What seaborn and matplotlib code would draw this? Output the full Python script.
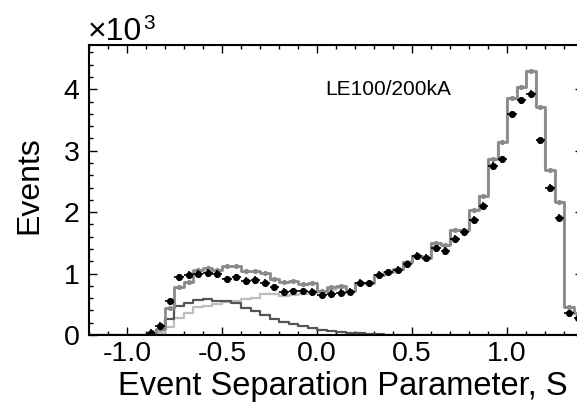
import numpy as np
import pandas as pd
import matplotlib
matplotlib.use("Agg")
import matplotlib.pyplot as plt
import seaborn as sns
from matplotlib.ticker import MultipleLocator

# ---------------- data (values in units of 10^3 events) ----------------
bin_edges = [round(-1.2 + 0.05 * i, 3) for i in range(53)]     # 52 bins of width 0.05
bin_centers = [round(e + 0.025, 3) for e in bin_edges[:-1]]

# total MC prediction (gray histogram + gray dots)
mc_total = [0, 0, 0, 0, 0, 0,
            0.015, 0.10, 0.434, 0.786, 0.867, 1.057, 1.095, 1.057, 1.127, 1.127,
            1.04, 1.04, 1.003, 0.916, 0.867, 0.878, 0.824, 0.84,
            0.715, 0.775, 0.797, 0.71, 0.85, 0.84, 0.976, 1.03, 1.07, 1.19,
            1.285, 1.26, 1.49, 1.46, 1.71, 1.71, 2.03, 2.26, 2.87, 3.14,
            3.85, 4.04, 4.29, 3.71, 2.68, 2.16, 0.45, 0.35]

# dark-gray component (peaks near S = -0.55)
mc_comp1 = [0, 0, 0, 0, 0, 0,
            0.005, 0.08, 0.26, 0.47, 0.515, 0.57, 0.58, 0.553, 0.553, 0.515,
            0.44, 0.39, 0.325, 0.255, 0.216, 0.18, 0.146, 0.11,
            0.075, 0.06, 0.045, 0.035, 0.027, 0.02, 0.012, 0.008, 0.004, 0.003,
            0.002, 0.002, 0.001, 0.001, 0, 0, 0, 0, 0, 0,
            0, 0, 0, 0, 0, 0, 0, 0]

# light-gray component
mc_comp2 = [0, 0, 0, 0, 0, 0,
            0.008, 0.03, 0.125, 0.27, 0.36, 0.45, 0.47, 0.50, 0.53, 0.55,
            0.58, 0.60, 0.66, 0.665, 0.64, 0.65, 0.67, 0.68,
            0.70, 0.74, 0.77, 0.70, 0.84, 0.83, 0.97, 1.02, 1.065, 1.185,
            1.28, 1.255, 1.49, 1.46, 1.71, 1.71, 2.03, 2.26, 2.87, 3.14,
            3.85, 4.04, 4.29, 3.71, 2.68, 2.16, 0.45, 0.35]

# data points (black)
data_x = [-0.875, -0.825, -0.775, -0.725, -0.675, -0.625, -0.575, -0.525, -0.475,
          -0.425, -0.375, -0.325, -0.275, -0.225, -0.175, -0.125, -0.075, -0.025,
          0.025, 0.075, 0.125, 0.175, 0.225, 0.275, 0.325, 0.375, 0.425, 0.475,
          0.525, 0.575, 0.625, 0.675, 0.725, 0.775, 0.825, 0.875, 0.925, 0.975,
          1.025, 1.075, 1.125, 1.175, 1.225, 1.275, 1.325, 1.375]
data_y = [0.03, 0.15, 0.55, 0.94, 0.975, 1.00, 1.01, 0.99, 0.905,
          0.94, 0.878, 0.894, 0.85, 0.776, 0.705, 0.71, 0.71, 0.70,
          0.645, 0.667, 0.688, 0.705, 0.85, 0.84, 0.976, 1.02, 1.057, 1.15,
          1.285, 1.26, 1.41, 1.37, 1.56, 1.68, 1.875, 2.10, 2.75, 2.86,
          3.59, 3.82, 3.93, 3.17, 2.40, 1.91, 0.353, 0.27]

x_ticks = [-1.0, -0.5, 0.0, 0.5, 1.0]
x_ticklabels = ["-1.0", "-0.5", "0.0", "0.5", "1.0"]
y_ticks = [0, 1, 2, 3, 4]
y_ticklabels = ["0", "1", "2", "3", "4"]

hist_df = pd.DataFrame({"S": bin_centers, "total": mc_total,
                        "comp1": mc_comp1, "comp2": mc_comp2})
data_df = pd.DataFrame({"S": data_x, "events": data_y})

# ---------------- style ----------------
sns.set_theme(style="ticks")
plt.rcParams["font.family"] = ["Liberation Sans", "DejaVu Sans"]
plt.rcParams["axes.unicode_minus"] = False
plt.rcParams["text.color"] = "black"
plt.rcParams["axes.labelcolor"] = "black"
plt.rcParams["xtick.color"] = "black"
plt.rcParams["ytick.color"] = "black"

fig = plt.figure(figsize=(5.77, 4.07), dpi=100)
W, H = 577.0, 407.0
ax = fig.add_axes([89 / W, 1 - 335 / H, 494 / W, 290 / H])

# histograms
sns.histplot(data=hist_df, x="S", weights="comp2", bins=bin_edges, element="step",
             fill=False, color="#bdbdbd", linewidth=1.6, ax=ax)
sns.histplot(data=hist_df, x="S", weights="comp1", bins=bin_edges, element="step",
             fill=False, color="#555555", linewidth=1.6, ax=ax)
sns.histplot(data=hist_df, x="S", weights="total", bins=bin_edges, element="step",
             fill=False, color="#8a8a8a", linewidth=2.0, ax=ax)

# gray MC dots
sns.scatterplot(data=hist_df[hist_df["total"] > 0], x="S", y="total", color="#8a8a8a",
                s=14, linewidth=0, ax=ax, zorder=4)

# data points with error bars
ax.errorbar(data_df["S"], data_df["events"], xerr=0.025, yerr=0.06, fmt="none",
            ecolor="black", elinewidth=1.2, zorder=5)
sns.scatterplot(data=data_df, x="S", y="events", color="black", s=26,
                linewidth=0, ax=ax, zorder=6)

# ---------------- axes ----------------
ax.set_xlim(-1.2, 1.4)
ax.set_ylim(0, 4.72)
ax.set_xticks(x_ticks)
ax.set_xticklabels(x_ticklabels)
ax.set_yticks(y_ticks)
ax.set_yticklabels(y_ticklabels)
ax.xaxis.set_minor_locator(MultipleLocator(0.1))
ax.yaxis.set_minor_locator(MultipleLocator(0.2))
ax.tick_params(which="both", direction="in", top=True, right=True,
               colors="black", width=1.0)
ax.tick_params(which="major", length=6)
ax.tick_params(which="minor", length=3)
ax.tick_params(axis="x", which="major", labelsize=20.5, pad=4)
ax.tick_params(axis="y", which="major", labelsize=20.5, pad=7)
for sp in ax.spines.values():
    sp.set_visible(True)
    sp.set_linewidth(1.5)
    sp.set_color("black")

ax.set_xlabel("Event Separation Parameter, S", fontsize=23.5, ha="right")
ax.xaxis.set_label_coords(0.9696, -0.125)
ax.set_ylabel("Events", fontsize=23, ha="center")
ax.yaxis.set_label_coords(-0.091, 0.517)

ax.text(0.045, 3.90, "LE100/200kA", fontsize=15, ha="left", va="baseline",
        color="black")

t10 = fig.text(88 / W, 1 - 40 / H, "\u00d710", fontsize=23, ha="left",
               va="baseline", color="black")
fig.text(0, 0, "")
ax.annotate("3", xy=(1.0, 1.0), xycoords=t10, xytext=(0.5, 2.5),
            textcoords="offset points", ha="left", va="top", fontsize=15,
            color="black", annotation_clip=False)

fig.savefig("out.png", dpi=100)
